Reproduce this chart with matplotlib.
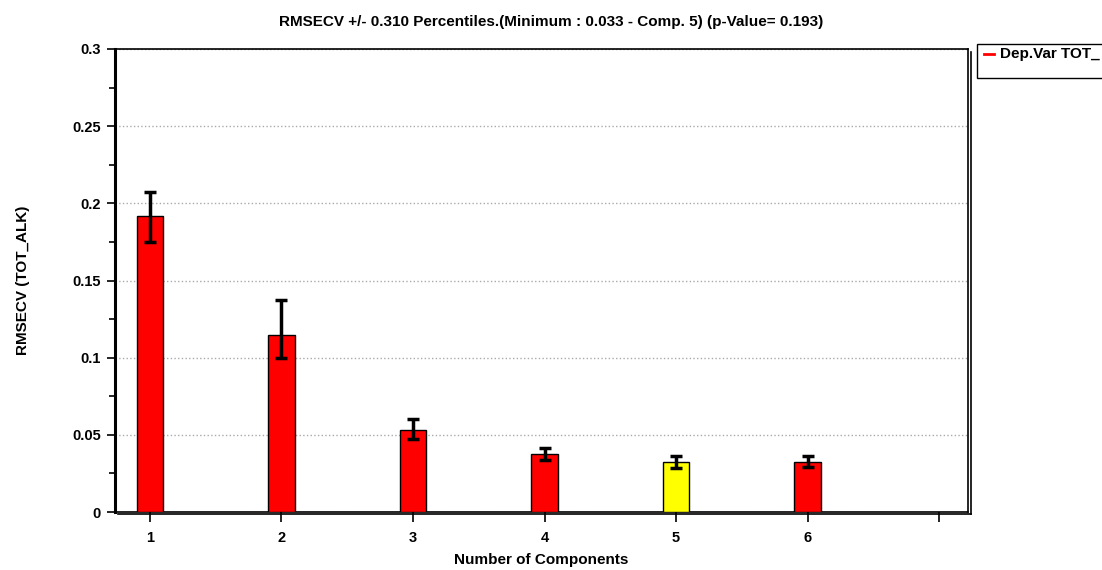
import matplotlib.pyplot as plt
from matplotlib.patches import Rectangle
from matplotlib.lines import Line2D

plt.rcParams['font.family'] = ['Liberation Sans', 'DejaVu Sans']
plt.rcParams['font.weight'] = 'bold'

# data
components = [1, 2, 3, 4, 5, 6]
rmsecv = [0.1916, 0.1148, 0.0532, 0.0375, 0.0321, 0.0321]
err_low = [0.1749, 0.0998, 0.0475, 0.0336, 0.0282, 0.0293]
err_high = [0.2076, 0.1375, 0.0600, 0.0414, 0.0360, 0.0360]
best = 5
x_tick_labels = ['1', '2', '3', '4', '5', '6', '']
y_ticks = [0, 0.05, 0.1, 0.15, 0.2, 0.25, 0.3]
y_tick_labels = ['0', '0.05', '0.1', '0.15', '0.2', '0.25', '0.3']
y_minor = [0.025, 0.075, 0.125, 0.175, 0.225, 0.275]

fig = plt.figure(figsize=(11.02, 5.70), dpi=100)
ax = fig.add_axes([115 / 1102, 58 / 570, 853 / 1102, 463 / 570])

colors = ['yellow' if c == best else 'red' for c in components]
ax.bar(components, rmsecv, width=0.2, color=colors, edgecolor='black', linewidth=1.0, zorder=3)
yerr = [[v - lo for v, lo in zip(rmsecv, err_low)], [hi - v for v, hi in zip(rmsecv, err_high)]]
ax.errorbar(components, rmsecv, yerr=yerr, fmt='none', ecolor='black', elinewidth=2.5,
            capsize=4.5, capthick=2.5, zorder=4)

ax.set_xlim(0.734, 7.22)
ax.set_ylim(0, 0.3)
ax.set_xticks(range(1, 8))
ax.set_xticklabels(x_tick_labels)
ax.set_yticks(y_ticks)
ax.set_yticklabels(y_tick_labels)
ax.set_yticks(y_minor, minor=True)
ax.yaxis.grid(True, linestyle=':', color='#aaaaaa', linewidth=1.0, zorder=0)

ax.tick_params(axis='y', direction='out', length=6, width=1.2, labelsize=10.5, pad=4)
ax.tick_params(axis='y', which='minor', direction='out', length=4, width=1.2)
ax.tick_params(axis='x', direction='out', length=7, width=1.2, labelsize=10.5, pad=7)
for side in ['top', 'right', 'bottom']:
    ax.spines[side].set_linewidth(1.2)
ax.spines['left'].set_linewidth(2.2)

# drop shadow of the plot frame
fig.add_artist(Line2D([118 / 1102, 970.5 / 1102], [56 / 570, 56 / 570], color='black', lw=1.2))
fig.add_artist(Line2D([970.5 / 1102, 970.5 / 1102], [56 / 570, 518 / 570], color='black', lw=1.2))

fig.text(541 / 1102, 1 - 560 / 570, 'Number of Components', ha='center', va='center',
         fontsize=11, fontweight='bold')
fig.text(23 / 1102, 1 - 280 / 570, 'RMSECV (TOT_ALK)', ha='center', va='center',
         rotation=90, fontsize=11, fontweight='bold')
fig.text(0.5, 1 - 22 / 570, 'RMSECV +/- 0.310 Percentiles.(Minimum : 0.033 - Comp. 5) (p-Value= 0.193)',
         ha='center', va='center', fontsize=11, fontweight='bold')

# legend box (cut off at the right edge like the reference)
fig.add_artist(Rectangle((977 / 1102, 492 / 570), 140 / 1102, 34 / 570, facecolor='white',
                         edgecolor='black', lw=1.0, clip_on=False))
fig.add_artist(Line2D([984 / 1102, 994 / 1102], [516 / 570, 516 / 570], color='red', lw=2))
fig.text(1000 / 1102, 516 / 570, 'Dep.Var TOT_', ha='left', va='center', fontsize=11,
         fontweight='bold')

fig.savefig('out.png', dpi=100)
